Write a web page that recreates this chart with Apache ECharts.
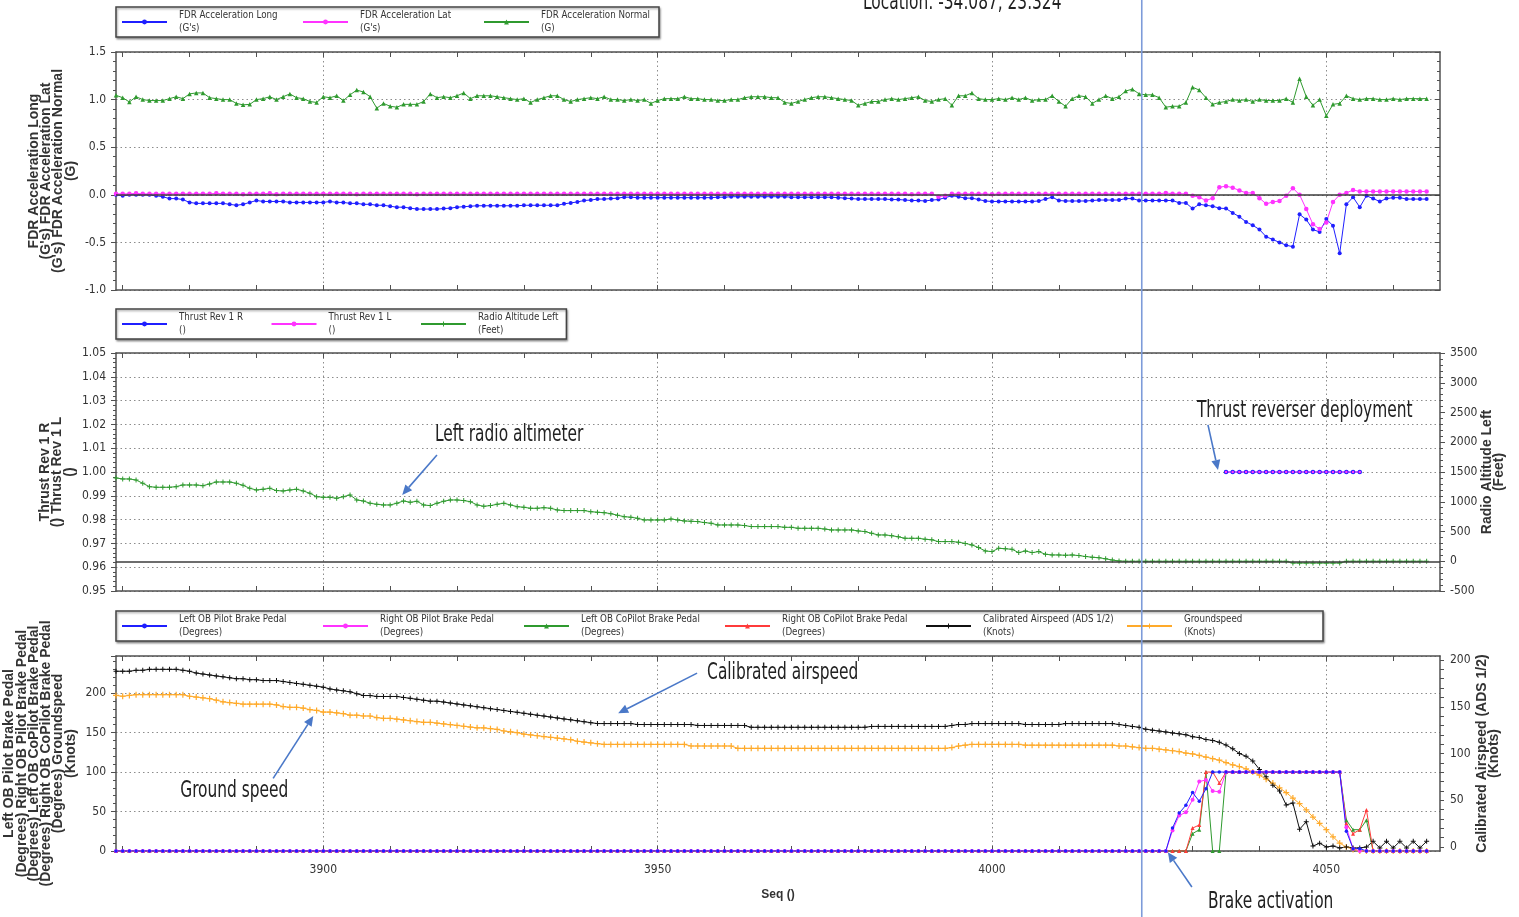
<!DOCTYPE html>
<html><head><meta charset="utf-8">
<script src="https://cdn.jsdelivr.net/npm/echarts@6/dist/echarts.min.js"></script>
<style>html,body{margin:0;padding:0;background:#fff}#c{width:1519px;height:917px}</style>
</head><body><div id="c"></div>
<script>
// ---------------- DATA ----------------
const SEQ_FIRST = 3869, SEQ_LAST = 4067;   // x-axis extent (Seq)
const seqCategories = [];
for (let s = SEQ_FIRST; s <= SEQ_LAST; s++) seqCategories.push(String(s));

// Panel 1 (values start at Seq 3869, one per Seq)
const accelLong = [
 0.0,-0.01,0.0,0.0,0.0,0.0,-0.01,-0.02,-0.04,-0.04,
 -0.05,-0.08,-0.09,-0.09,-0.09,-0.09,-0.09,-0.1,-0.11,-0.1,
 -0.08,-0.06,-0.07,-0.07,-0.07,-0.07,-0.08,-0.08,-0.08,-0.08,
 -0.08,-0.08,-0.07,-0.08,-0.08,-0.09,-0.09,-0.1,-0.1,-0.11,
 -0.11,-0.12,-0.13,-0.13,-0.14,-0.15,-0.15,-0.15,-0.15,-0.145,
 -0.14,-0.13,-0.125,-0.12,-0.115,-0.115,-0.115,-0.115,-0.115,-0.115,
 -0.115,-0.11,-0.11,-0.11,-0.11,-0.11,-0.11,-0.095,-0.085,-0.075,
 -0.06,-0.055,-0.045,-0.045,-0.04,-0.035,-0.025,-0.025,-0.03,-0.03,
 -0.03,-0.03,-0.03,-0.03,-0.03,-0.03,-0.03,-0.03,-0.03,-0.03,
 -0.025,-0.025,-0.02,-0.02,-0.02,-0.02,-0.02,-0.02,-0.02,-0.02,
 -0.02,-0.025,-0.025,-0.025,-0.025,-0.025,-0.025,-0.025,-0.03,-0.035,
 -0.04,-0.045,-0.045,-0.045,-0.045,-0.045,-0.05,-0.05,-0.055,-0.06,
 -0.06,-0.065,-0.055,-0.05,-0.03,-0.01,-0.02,-0.035,-0.035,-0.05,
 -0.065,-0.07,-0.07,-0.07,-0.07,-0.07,-0.07,-0.07,-0.065,-0.045,
 -0.025,-0.06,-0.065,-0.065,-0.065,-0.065,-0.06,-0.055,-0.055,-0.055,
 -0.055,-0.04,-0.04,-0.06,-0.06,-0.06,-0.06,-0.06,-0.06,-0.085,
 -0.085,-0.145,-0.1,-0.11,-0.12,-0.14,-0.145,-0.19,-0.23,-0.285,
 -0.32,-0.365,-0.44,-0.47,-0.5,-0.53,-0.545,-0.205,-0.26,-0.365,
 -0.39,-0.255,-0.325,-0.615,-0.1,-0.025,-0.13,-0.01,-0.04,-0.07,
 -0.04,-0.03,-0.03,-0.045,-0.045,-0.045,-0.045
];
const accelLat = [
 0.01,0.01,0.01,0.015,0.01,0.01,0.01,0.01,0.01,0.01,
 0.01,0.01,0.01,0.01,0.01,0.015,0.01,0.01,0.01,0.005,
 0.01,0.01,0.01,0.015,0.005,0.01,0.01,0.01,0.01,0.01,
 0.01,0.01,0.01,0.01,0.01,0.01,0.005,0.01,0.01,0.01,
 0.01,0.01,0.01,0.01,0.01,0.005,0.01,0.01,0.01,0.01,
 0.01,0.01,0.01,0.01,0.01,0.01,0.01,0.01,0.01,0.01,
 0.01,0.01,0.01,0.01,0.01,0.01,0.01,0.01,0.01,0.01,
 0.01,0.01,0.01,0.01,0.01,0.01,0.01,0.01,0.01,0.01,
 0.01,0.01,0.01,0.01,0.01,0.01,0.01,0.01,0.01,0.01,
 0.01,0.01,0.01,0.01,0.01,0.01,0.01,0.01,0.01,0.01,
 0.01,0.01,0.01,0.01,0.01,0.01,0.01,0.01,0.01,0.01,
 0.01,0.01,0.01,0.01,0.01,0.01,0.01,0.01,0.01,0.005,
 0.01,0.01,0.01,-0.02,-0.01,0.01,0.01,0.01,0.01,0.01,
 0.01,0.005,0.01,0.01,0.01,0.01,0.01,0.01,0.01,0.01,
 0.01,0.01,0.01,0.01,0.01,0.01,0.01,0.01,0.01,0.01,
 0.01,0.01,0.01,0.01,0.01,0.01,0.01,0.02,0.01,0.01,
 0.01,-0.01,-0.025,-0.06,-0.035,0.08,0.09,0.075,0.045,0.02,
 0.02,-0.035,-0.095,-0.075,-0.065,-0.01,0.07,0.0,-0.15,-0.31,
 -0.36,-0.29,-0.075,0.0,0.02,0.05,0.035,0.035,0.035,0.035,
 0.035,0.035,0.035,0.035,0.035,0.035,0.035
];
const accelNormal = [
 1.045,1.02,0.975,1.03,1.0,0.99,0.99,0.99,1.01,1.03,
 1.01,1.06,1.07,1.07,1.02,1.01,1.0,1.0,0.96,0.945,
 0.95,1.0,1.01,1.03,1.0,1.03,1.06,1.02,1.01,0.98,
 0.97,1.03,1.02,1.04,0.99,1.05,1.1,1.08,1.03,0.91,
 0.96,0.93,0.92,0.95,0.95,0.95,0.98,1.06,1.02,1.03,
 1.02,1.04,1.07,1.01,1.04,1.04,1.04,1.03,1.02,1.01,
 1.0,1.01,0.97,1.0,1.02,1.04,1.04,1.0,0.98,1.0,
 1.01,1.02,1.01,1.03,1.0,1.0,0.99,1.0,0.99,1.0,
 0.96,0.99,1.01,1.01,1.01,1.03,1.01,1.01,1.0,1.0,
 0.99,0.99,1.0,1.0,1.02,1.03,1.03,1.03,1.02,1.02,
 0.97,0.96,0.98,1.0,1.02,1.03,1.03,1.02,1.01,1.0,
 0.99,0.94,0.96,0.98,0.98,1.0,1.01,1.0,1.01,1.02,
 1.03,0.99,0.98,1.0,1.01,0.94,1.04,1.04,1.07,1.01,
 1.0,1.0,1.01,1.0,1.02,1.0,1.02,0.99,1.0,1.0,
 1.04,0.98,0.93,1.01,1.04,1.03,0.96,1.0,1.04,1.01,
 1.03,1.09,1.11,1.06,1.05,1.05,1.02,0.92,0.93,0.93,
 0.97,1.13,1.10,1.02,0.95,0.97,0.98,1.0,0.99,1.0,
 0.98,1.0,0.99,0.99,0.99,1.01,0.97,1.22,1.03,0.94,
 1.0,0.83,0.95,0.96,1.04,1.01,1.0,1.01,1.01,1.0,
 1.0,1.01,1.0,1.01,1.01,1.01,1.01
];

// Panel 2
const thrustSeq = [4035,4036,4037,4038,4039,4040,4041,4042,4043,4044,4045,4046,4047,4048,4049,4050,4051,4052,4053,4054,4055];
const thrustRevR = [1,1,1,1,1,1,1,1,1,1,1,1,1,1,1,1,1,1,1,1,1];
const thrustRevL = [1,1,1,1,1,1,1,1,1,1,1,1,1,1,1,1,1,1,1,1,1];
const radioAltLeft = [
 1400,1383,1383,1366,1310,1254,1243,1243,1243,1254,
 1282,1282,1282,1271,1299,1332,1332,1332,1310,1276,
 1226,1198,1210,1226,1187,1182,1198,1210,1182,1142,
 1086,1075,1075,1058,1086,1114,1030,1013,975,957,
 946,946,975,1013,991,1008,946,935,975,1008,
 1030,1030,1019,1002,946,924,935,957,975,946,
 918,907,890,890,901,890,862,851,851,851,
 851,834,823,817,800,773,750,740,722,694,
 694,694,694,711,694,677,672,666,650,638,
 610,610,610,610,600,582,582,582,582,582,
 570,570,554,554,554,554,540,526,526,526,
 526,510,498,470,442,442,430,410,386,386,
 386,370,360,330,330,330,320,300,274,230,
 173,162,218,210,201,145,173,145,162,117,
 106,106,100,106,95,80,67,60,40,20,
 5,0,0,0,0,0,0,0,0,0,
 0,0,0,0,0,0,0,0,0,0,
 0,0,0,0,0,0,-30,-30,-30,-30,
 -30,-30,-30,-30,0,0,0,0,0,0,
 0,0,0,0,0,0,0
];

// Panel 3
const leftOBPilotBrake = [
 0,0,0,0,0,0,0,0,0,0, 0,0,0,0,0,0,0,0,0,0, 0,0,0,0,0,0,0,0,0,0,
 0,0,0,0,0,0,0,0,0,0, 0,0,0,0,0,0,0,0,0,0, 0,0,0,0,0,0,0,0,0,0,
 0,0,0,0,0,0,0,0,0,0, 0,0,0,0,0,0,0,0,0,0, 0,0,0,0,0,0,0,0,0,0,
 0,0,0,0,0,0,0,0,0,0, 0,0,0,0,0,0,0,0,0,0, 0,0,0,0,0,0,0,0,0,0,
 0,0,0,0,0,0,0,0,0,0, 0,0,0,0,0,0,0,0,0,0, 0,0,0,0,0,0,0,0,0,0,
 0,0,0,0,0,0,0,0,29,48,
 58,74,63,79,100,100,100,100,100,100,
 100,100,100,100,100,100,100,100,100,100,
 100,100,100,100,25,3,3,0,0,0,
 0,0,0,0,0,0,0
];
const rightOBPilotBrake = [
 0,0,0,0,0,0,0,0,0,0, 0,0,0,0,0,0,0,0,0,0, 0,0,0,0,0,0,0,0,0,0,
 0,0,0,0,0,0,0,0,0,0, 0,0,0,0,0,0,0,0,0,0, 0,0,0,0,0,0,0,0,0,0,
 0,0,0,0,0,0,0,0,0,0, 0,0,0,0,0,0,0,0,0,0, 0,0,0,0,0,0,0,0,0,0,
 0,0,0,0,0,0,0,0,0,0, 0,0,0,0,0,0,0,0,0,0, 0,0,0,0,0,0,0,0,0,0,
 0,0,0,0,0,0,0,0,0,0, 0,0,0,0,0,0,0,0,0,0, 0,0,0,0,0,0,0,0,0,0,
 0,0,0,0,0,0,0,0,26,45,
 49,65,88,90,76,75,100,100,100,100,
 100,100,100,100,100,100,100,100,100,100,
 100,100,100,100,30,3,0,0,0,0,
 0,0,0,0,0,0,0
];
const leftOBCoPilotBrake = [
 0,0,0,0,0,0,0,0,0,0, 0,0,0,0,0,0,0,0,0,0, 0,0,0,0,0,0,0,0,0,0,
 0,0,0,0,0,0,0,0,0,0, 0,0,0,0,0,0,0,0,0,0, 0,0,0,0,0,0,0,0,0,0,
 0,0,0,0,0,0,0,0,0,0, 0,0,0,0,0,0,0,0,0,0, 0,0,0,0,0,0,0,0,0,0,
 0,0,0,0,0,0,0,0,0,0, 0,0,0,0,0,0,0,0,0,0, 0,0,0,0,0,0,0,0,0,0,
 0,0,0,0,0,0,0,0,0,0, 0,0,0,0,0,0,0,0,0,0, 0,0,0,0,0,0,0,0,0,0,
 0,0,0,0,0,0,0,0,0,0,
 0,22,27,100,0,0,100,100,100,100,
 100,100,100,100,100,100,100,100,100,100,
 100,100,100,100,39,27,27,39,0,0,
 0,0,0,0,0,0,0
];
const rightOBCoPilotBrake = [
 0,0,0,0,0,0,0,0,0,0, 0,0,0,0,0,0,0,0,0,0, 0,0,0,0,0,0,0,0,0,0,
 0,0,0,0,0,0,0,0,0,0, 0,0,0,0,0,0,0,0,0,0, 0,0,0,0,0,0,0,0,0,0,
 0,0,0,0,0,0,0,0,0,0, 0,0,0,0,0,0,0,0,0,0, 0,0,0,0,0,0,0,0,0,0,
 0,0,0,0,0,0,0,0,0,0, 0,0,0,0,0,0,0,0,0,0, 0,0,0,0,0,0,0,0,0,0,
 0,0,0,0,0,0,0,0,0,0, 0,0,0,0,0,0,0,0,0,0, 0,0,0,0,0,0,0,0,0,0,
 0,0,0,0,0,0,0,0,0,0,
 0,29,33,100,100,86,100,100,100,100,
 100,100,100,100,100,100,100,100,100,100,
 100,100,100,100,35,22,27,52,0,0,
 0,0,0,0,0,0,0
];
const calibratedAirspeed = [
 188,188,188,189,189,190,190,190,190,190,
 189,188,186,185,184,183,182,181,180,180,
 179,179,178,178,178,177,176,175,174,173,
 172,171,169,168,167,166,164,162,162,161,
 161,161,161,160,159,158,157,156,156,155,
 154,153,152,151,150,149,148,147,146,145,
 144,143,142,141,140,139,138,137,136,135,
 134,133,132,132,132,132,132,132,131,131,
 131,131,131,131,131,131,131,130,130,130,
 130,130,130,130,130,128,128,128,128,128,
 128,128,128,128,128,128,128,128,128,128,
 128,128,128,129,129,129,129,129,129,129,
 129,129,129,129,129,130,131,131,132,132,
 132,132,132,132,132,132,131,131,131,131,
 131,131,132,132,132,132,132,132,132,132,
 131,130,129,128,126,125,124,123,122,121,
 120,118,117,115,114,112,109,105,100,97,
 92,83,75,66,60,45,47,19,27,1,
 4,0,1,-1,0,-1,-1,0,6,-1,
 6,-1,6,-1,6,-1,6
];
const groundspeed = [
 197,196,197,198,198,198,198,198,198,198,
 198,196,195,194,193,191,189,188,187,186,
 186,186,186,186,185,183,182,182,181,179,
 178,176,176,175,174,172,172,171,171,169,
 168,168,167,166,165,164,163,163,162,161,
 160,159,158,157,156,156,155,154,152,151,
 150,148,147,146,145,144,143,142,141,139,
 138,137,136,135,135,135,135,135,135,135,
 135,135,135,135,135,135,133,133,133,133,
 133,133,133,130,130,130,130,130,130,130,
 130,130,130,130,130,130,130,130,130,130,
 130,130,130,130,130,130,130,130,130,130,
 130,130,130,130,130,131,133,134,135,135,
 135,135,135,135,135,135,134,134,134,134,
 134,134,134,134,134,134,134,134,134,134,
 133,133,132,131,130,130,129,128,127,126,
 124,123,121,119,117,115,112,109,107,104,
 100,96,91,86,80,74,67,60,52,43,
 35,27,18,10,5,2,0,0,0,0,
 0,0,0,0,0,0,0
];

// Axis tick values
const casTickValues = [0,10,20,30,40,50,60,70,80,90,100,110,120,130,140,150,160,170,180,190,200];
const casLabelValues = [0,50,100,150,200];
const CURSOR_SEQ = 4022.4;

// Legend units
const units = {
  'FDR Acceleration Long': "(G's)", 'FDR Acceleration Lat': "(G's)", 'FDR Acceleration Normal': '(G)',
  'Thrust Rev 1 R': '()', 'Thrust Rev 1 L': '()', 'Radio Altitude Left': '(Feet)',
  'Left OB Pilot Brake Pedal': '(Degrees)', 'Right OB Pilot Brake Pedal': '(Degrees)',
  'Left OB CoPilot Brake Pedal': '(Degrees)', 'Right OB CoPilot Brake Pedal': '(Degrees)',
  'Calibrated Airspeed (ADS 1/2)': '(Knots)', 'Groundspeed': '(Knots)'
};

// Annotations (data coordinates): [seq, value]
const annotations = [
  {label: 'Left radio altimeter', xi: 2, yi: 3, text: [3916.7, 2123], from: [3917.0, 1787], to: [3911.8, 1115]},
  {label: 'Thrust reverser deployment', xi: 2, yi: 3, text: [4030.65, 2526], from: [4032.3, 2291], to: [4033.8, 1534]},
  {label: 'Calibrated airspeed', xi: 4, yi: 5, text: [3957.4, 186], from: [3955.9, 186], to: [3944.1, 143]},
  {label: 'Ground speed', xi: 4, yi: 4, text: [3878.6, 76], from: [3892.5, 92], to: [3898.5, 171]},
  {label: 'Brake activation', xi: 4, yi: 4, text: [4032.3, -64.6], from: [4029.9, -45.6], to: [4026.3, -1.5]}
];
const LOCATION_TEXT = 'Location: -34.087, 23.324';

// ---------------- STYLE ----------------
const NARROW = "'Liberation Sans Narrow','Arial Narrow','DejaVu Sans Condensed','Liberation Sans',sans-serif";
const BOLD = "'Liberation Sans',Arial,sans-serif";
const ANNO = "'DejaVu Sans Condensed','Liberation Sans Narrow','Open Sans',sans-serif";
const ANNO_SIZE = 23, ANNO_SCALE = 0.745;
const AX = '#505050';
const TXT = '#333';
const PLUS = 'path://M4,0h2v4h4v2h-4v4h-2v-4h-4v-2h4z';
const gridLine = () => ({show: true, lineStyle: {color: '#8c8c8c', width: 1, type: [1.5, 3]}});
const is10 = (i, v) => Number(v) % 10 === 0;
const is50 = (i, v) => Number(v) % 50 === 0;
const nameStyle = {fontFamily: BOLD, fontWeight: 'bold', fontSize: 14, lineHeight: 12.3, color: TXT};
const labelStyle = {color: TXT, fontFamily: NARROW, fontSize: 12};

function bottomX(grid, labels) {
  return {
    type: 'category', gridIndex: grid, data: seqCategories, boundaryGap: false, position: 'bottom',
    axisLine: {show: true, onZero: false, lineStyle: {color: AX, width: 1.5}},
    axisTick: {show: true, inside: true, length: 5, interval: is10, lineStyle: {color: AX}},
    axisLabel: Object.assign({show: labels, interval: is50, margin: 13}, labelStyle),
    splitLine: Object.assign({interval: is50}, gridLine()),
    name: labels ? 'Seq ()' : '', nameLocation: 'middle', nameGap: 38, nameMoveOverlap: false,
    nameTextStyle: {fontFamily: BOLD, fontWeight: 'bold', fontSize: 12, color: TXT}
  };
}
function topX(grid) {
  return {
    type: 'category', gridIndex: grid, data: seqCategories, boundaryGap: false, position: 'top',
    axisLine: {show: true, onZero: false, lineStyle: {color: AX, width: 1.5}},
    axisTick: {show: true, inside: true, length: 5, interval: is10, lineStyle: {color: AX}},
    axisLabel: {show: false}, splitLine: {show: false}
  };
}
function yAx(o) {
  const base = {
    type: 'value', axisLine: {show: true, onZero: false, lineStyle: {color: AX, width: 1.5}},
    axisTick: {show: true, length: 5, lineStyle: {color: AX}},
    minorTick: {show: true, splitNumber: 5, length: 3, lineStyle: {color: AX}},
    axisLabel: Object.assign({margin: 10}, labelStyle),
    splitLine: {show: false},
    nameLocation: 'middle', nameRotate: 90, nameMoveOverlap: false, nameTextStyle: nameStyle
  };
  const r = Object.assign(base, o);
  if (o.axisLabel) r.axisLabel = Object.assign({margin: 10}, labelStyle, o.axisLabel);
  if (o.axisTick) r.axisTick = Object.assign({show: true, length: 5, lineStyle: {color: AX}}, o.axisTick);
  return r;
}
function ser(name, xi, yi, data, color, symbol, size, extra) {
  return Object.assign({
    type: 'line', name, xAxisIndex: xi, yAxisIndex: yi, data, symbol, symbolSize: size,
    showSymbol: true, showAllSymbol: true, connectNulls: false,
    lineStyle: {color, width: 1}, itemStyle: {color}, emphasis: {disabled: true},
    animation: false
  }, extra || {});
}
function legend(names, top, textW, gap) {
  return {
    data: names, left: 116, top, orient: 'horizontal', itemWidth: 45, itemHeight: 6, itemGap: gap,
    padding: [2.5, 8, 2.5, 5], borderColor: '#444', borderWidth: 1.5, borderRadius: 0, backgroundColor: '#fff',
    shadowColor: 'rgba(0,0,0,0.35)', shadowBlur: 2, shadowOffsetX: 1, shadowOffsetY: 1.5,
    selectedMode: false,
    formatter: n => n + '\n' + units[n],
    textStyle: {width: textW, padding: [0, 0, 0, 7], color: TXT, fontFamily: NARROW, fontSize: 9.7, lineHeight: 12.5}
  };
}
const zeroLine = {silent: true, symbol: 'none', label: {show: false}, animation: false,
  lineStyle: {color: '#3c3c3c', width: 1.6, type: 'solid'}, data: [{yAxis: 0}]};

const BLUE = '#1f1fff', MAG = '#ff33ff', GREEN = '#2f9a2f', RED = '#ff3b3b', BLACK = '#111111', ORANGE = '#ffaa2a';

const option = {
  animation: false,
  backgroundColor: '#fff',
  grid: [
    {left: 116, right: 79, top: 52, height: 238, outerBoundsMode: 'none'},
    {left: 116, right: 79, top: 353, height: 238, outerBoundsMode: 'none'},
    {left: 116, right: 79, top: 656, height: 195, outerBoundsMode: 'none'}
  ],
  legend: [
    legend(['FDR Acceleration Long', 'FDR Acceleration Lat', 'FDR Acceleration Normal'], 7, 110, 13),
    legend(['Thrust Rev 1 R', 'Thrust Rev 1 L', 'Radio Altitude Left'], 309, 80, 11.5),
    legend(['Left OB Pilot Brake Pedal', 'Right OB Pilot Brake Pedal', 'Left OB CoPilot Brake Pedal',
            'Right OB CoPilot Brake Pedal', 'Calibrated Airspeed (ADS 1/2)', 'Groundspeed'], 611, 131, 12)
  ],
  xAxis: [bottomX(0, false), topX(0), bottomX(1, false), topX(1), bottomX(2, true), topX(2)],
  yAxis: [
    yAx({gridIndex: 0, position: 'left', min: -1, max: 1.5, interval: 0.5,
      axisLabel: {formatter: v => v.toFixed(1)}, splitLine: gridLine(),
      name: "FDR Acceleration Long\n(G's) FDR Acceleration Lat\n(G's) FDR Acceleration Normal\n(G)", nameGap: 39}),
    yAx({gridIndex: 0, position: 'right', min: -1, max: 1.5, interval: 0.5,
      axisLabel: {show: false}, axisTick: {inside: true}}),
    yAx({gridIndex: 1, position: 'left', min: 0.95, max: 1.05, interval: 0.01,
      axisLabel: {formatter: v => v.toFixed(2)}, splitLine: gridLine(),
      name: 'Thrust Rev 1 R\n() Thrust Rev 1 L\n()', nameGap: 40}),
    yAx({gridIndex: 1, position: 'right', min: -500, max: 3500, interval: 500,
      axisLabel: {formatter: v => String(v)},
      name: 'Radio Altitude Left\n(Feet)', nameGap: 41}),
    yAx({gridIndex: 2, position: 'left', min: 0, max: 247, interval: 50,
      axisLabel: {showMaxLabel: false, formatter: v => String(v)}, splitLine: gridLine(),
      name: 'Left OB Pilot Brake Pedal\n(Degrees) Right OB Pilot Brake Pedal\n(Degrees) Left OB CoPilot Brake Pedal\n(Degrees) Right OB CoPilot Brake Pedal\n(Degrees) Groundspeed\n(Knots)',
      nameGap: 39}),
    yAx({gridIndex: 2, position: 'right', min: -4.3, max: 204.3,
      axisTick: {customValues: casTickValues, length: 4},
      minorTick: {show: false},
      axisLabel: {customValues: casLabelValues, formatter: v => String(v)},
      name: 'Calibrated Airspeed (ADS 1/2)\n(Knots)', nameGap: 36})
  ],
  series: [
    ser('FDR Acceleration Long', 0, 0, accelLong, BLUE, 'circle', 4, {markLine: zeroLine}),
    ser('FDR Acceleration Lat', 0, 0, accelLat, MAG, 'circle', 4.5),
    ser('FDR Acceleration Normal', 0, 0, accelNormal, GREEN, 'triangle', 4.5),
    ser('Radio Altitude Left', 2, 3, radioAltLeft, GREEN, PLUS, 5, {markLine: zeroLine}),
    ser('Thrust Rev 1 R', 2, 2, thrustSeq.map((s, i) => [String(s), thrustRevR[i]]), BLUE, 'circle', 4.5),
    ser('Thrust Rev 1 L', 2, 2, thrustSeq.map((s, i) => [String(s), thrustRevL[i]]), MAG, 'circle', 2.5),
    ser('Groundspeed', 4, 4, groundspeed, ORANGE, PLUS, 6),
    ser('Calibrated Airspeed (ADS 1/2)', 4, 5, calibratedAirspeed, BLACK, PLUS, 5),
    ser('Left OB CoPilot Brake Pedal', 4, 4, leftOBCoPilotBrake, GREEN, 'triangle', 4),
    ser('Right OB CoPilot Brake Pedal', 4, 4, rightOBCoPilotBrake, RED, 'triangle', 4),
    ser('Right OB Pilot Brake Pedal', 4, 4, rightOBPilotBrake, MAG, 'circle', 4),
    ser('Left OB Pilot Brake Pedal', 4, 4, leftOBPilotBrake, BLUE, 'circle', 3.5)
  ]
};

const chart = echarts.init(document.getElementById('c'), null, {renderer: 'canvas'});
chart.setOption(option);

// ---------- annotations placed through the axes ----------
function px(xi, yi, seq, val) {
  const f = seq - SEQ_FIRST, i0 = Math.floor(f), t = f - i0;
  const a = chart.convertToPixel({xAxisIndex: xi, yAxisIndex: yi}, [i0, val]);
  const b = chart.convertToPixel({xAxisIndex: xi, yAxisIndex: yi}, [i0 + 1, val]);
  return [a[0] + t * (b[0] - a[0]), a[1]];
}
function annoText(text, x, y) {
  return {type: 'text', x, y, scaleX: ANNO_SCALE, silent: true, z: 50,
    style: {text, fill: '#222', font: ANNO_SIZE + 'px ' + ANNO, align: 'left', verticalAlign: 'middle'}};
}
const graphics = [];
graphics.push(annoText(LOCATION_TEXT, 863, 3));
annotations.forEach(a => {
  const t = px(a.xi, a.yi, a.text[0], a.text[1]);
  const s = px(a.xi, a.yi, a.from[0], a.from[1]);
  const e = px(a.xi, a.yi, a.to[0], a.to[1]);
  graphics.push(annoText(a.label, t[0], t[1]));
  const ang = Math.atan2(e[1] - s[1], e[0] - s[0]);
  const L = 10, W = 4.5;
  const bx = e[0] - L * Math.cos(ang), by = e[1] - L * Math.sin(ang);
  graphics.push({type: 'line', silent: true, z: 50, shape: {x1: s[0], y1: s[1], x2: bx, y2: by},
    style: {stroke: '#4a78c8', lineWidth: 1.6}});
  graphics.push({type: 'polygon', silent: true, z: 50, shape: {points: [
    [e[0], e[1]],
    [bx + W * Math.sin(ang), by - W * Math.cos(ang)],
    [bx - W * Math.sin(ang), by + W * Math.cos(ang)]]}, style: {fill: '#4a78c8'}});
});
const cx = px(4, 4, CURSOR_SEQ, 0)[0];
graphics.push({type: 'line', silent: true, z: 60, shape: {x1: cx, y1: 0, x2: cx, y2: chart.getHeight()},
  style: {stroke: '#7d9bd9', lineWidth: 1.6}});
chart.setOption({graphic: graphics});
</script>
</body></html>
